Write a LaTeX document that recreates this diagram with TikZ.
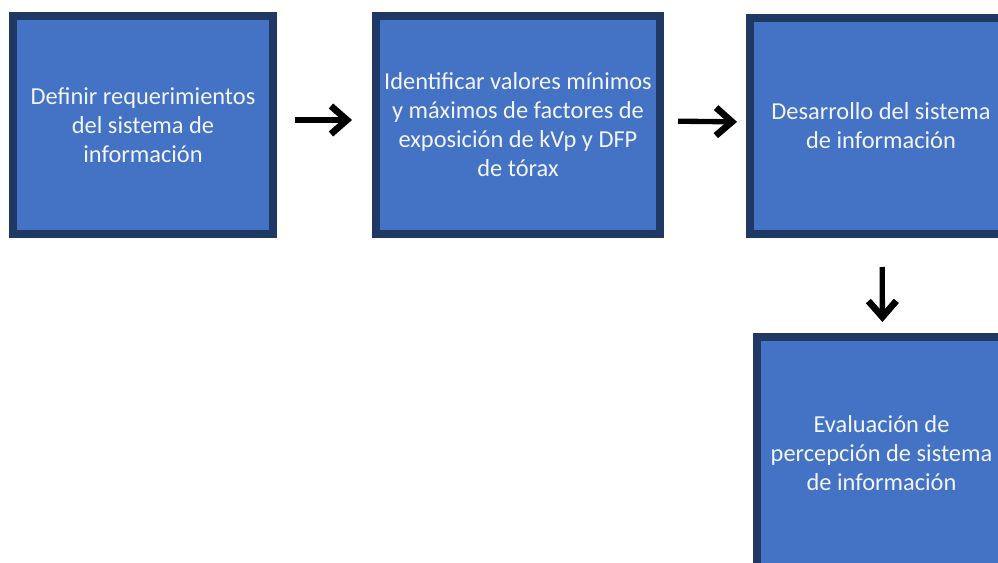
\documentclass[tikz,border=0pt]{standalone}
\usepackage{fontspec}
\setmainfont{Carlito}
\usetikzlibrary{arrows.meta}
\definecolor{boxfill}{HTML}{4472C4}
\definecolor{boxline}{HTML}{203864}
\definecolor{boxtext}{HTML}{F2F5FB}
\tikzset{
  stepbox/.style={draw=boxline, fill=boxfill, line width=6pt, outer sep=0pt,
    text=boxtext, align=center, inner sep=0pt,
    font=\fontsize{18.3}{21.75}\selectfont},
  flowarrow/.style={draw=black, line width=4pt,
    -{Straight Barb[length=12pt, width=21pt, line width=5pt]}},
}
\begin{document}
\begin{tikzpicture}[x=0.75pt, y=-0.75pt]
  \clip (0,0) rectangle (998,563);
  \fill[white] (0,0) rectangle (998,563);
  \node[stepbox, minimum width=195pt, minimum height=163.5pt] (b1) at (143,125)
    {Definir requerimientos\\del sistema de\\información};
  \node[stepbox, minimum width=213pt, minimum height=163.5pt] (b2) at (518,125)
    {Identificar valores mínimos\\y máximos de factores de\\exposición de kVp y DFP\\de tórax};
  \node[stepbox, minimum width=196.5pt, minimum height=162pt] (b3) at (881,126)
    {Desarrollo del sistema\\de información};
  \node[stepbox, minimum width=186.75pt, minimum height=174pt] (b4) at (881.5,453)
    {Evaluación de\\percepción de sistema\\de información};
  \draw[flowarrow, shorten <=16.5pt, shorten >=18pt]
    ([yshift=3.75pt]b1.east) -- ([yshift=3.75pt]b2.west);
  \draw[flowarrow, shorten <=13.5pt, shorten >=9.75pt]
    ([yshift=3pt]b2.east) -- ([yshift=3pt]b3.west);
  \draw[flowarrow, shorten <=24.75pt, shorten >=11.25pt]
    ([xshift=0.75pt]b3.south) -- ([xshift=0.75pt]b4.north);
\end{tikzpicture}
\end{document}
